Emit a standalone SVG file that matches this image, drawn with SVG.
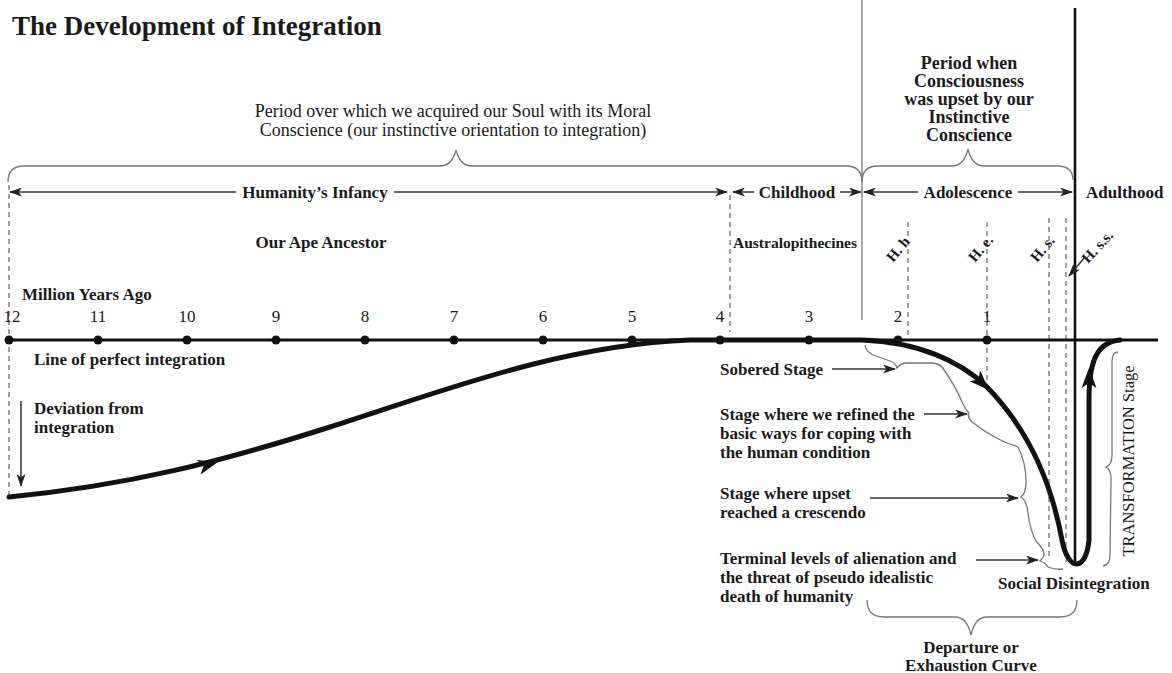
<svg xmlns="http://www.w3.org/2000/svg" width="1172" height="673" viewBox="0 0 1172 673">
<style>
text{font-family:"Liberation Serif","Times New Roman",serif;fill:#1a1a1a}
.b{font-weight:bold;font-size:17px}
.r{font-size:17px}
.c{text-anchor:middle}
.h{font-weight:bold;font-size:15px}
.thin{fill:none;stroke:#333;stroke-width:1.5}
.gray{fill:none;stroke:#777;stroke-width:1.3}
.dash{fill:none;stroke:#555;stroke-width:1.1;stroke-dasharray:5 4}
.main{fill:none;stroke:#111;stroke-width:5;stroke-linecap:round;stroke-linejoin:round}
.axis{fill:none;stroke:#111;stroke-width:3}
.head{fill:#111}
</style>
<defs>
<marker id="ah" viewBox="0 0 13 9" refX="12" refY="4.5" markerWidth="13" markerHeight="9" markerUnits="userSpaceOnUse" orient="auto-start-reverse">
<path d="M0,0 L13,4.5 L0,9 L3.5,4.5 z" fill="#222"/>
</marker>
<path id="bigHead" d="M0,0 L-20,-7.5 L-15,0 L-20,7.5 z"/>
</defs>

<g id="title"><text x="12" y="35" style="font-weight:bold;font-size:27px">The Development of Integration</text></g>

<g id="frame-lines">
<line x1="862" y1="0" x2="862" y2="320" stroke="#888" stroke-width="1.5"/>
<line x1="1075" y1="8" x2="1075" y2="566" stroke="#111" stroke-width="2.6"/>
<line class="dash" x1="9" y1="185" x2="9" y2="497"/>
<line class="dash" x1="730" y1="195" x2="730" y2="332"/>
<line class="dash" x1="908" y1="222" x2="908" y2="340"/>
<line class="dash" x1="987" y1="222" x2="987" y2="386"/>
<line class="dash" x1="1049" y1="218" x2="1049" y2="560"/>
<line class="dash" x1="1066" y1="218" x2="1066" y2="562"/>
</g>

<g id="soul-period">
<path class="gray" d="M8,182 Q8,166 24,166 L440,166 Q452,166 456,150 Q460,166 472,166 L846,166 Q862,166 862,182"/>
<text class="c" x="453" y="117" style="font-size:18px">Period over which we acquired our Soul with its Moral</text>
<text class="c" x="453" y="136" style="font-size:18px">Conscience (our instinctive orientation to integration)</text>
</g>

<g id="upset-period">
<path class="gray" d="M862,182 Q862,166 878,166 L952,166 Q964,166 968,149 Q972,166 984,166 L1057,166 Q1073,166 1073,180"/>
<g style="font-weight:bold;font-size:18px">
<text class="c" x="969" y="69">Period when</text>
<text class="c" x="969" y="87">Consciousness</text>
<text class="c" x="969" y="105">was upset by our</text>
<text class="c" x="969" y="123">Instinctive</text>
<text class="c" x="969" y="141">Conscience</text>
</g>
</g>

<g id="infancy"><text class="b c" x="315" y="198">Humanity’s Infancy</text></g>
<g id="childhood"><text class="b c" x="797" y="198">Childhood</text></g>
<g id="adolescence"><text class="b c" x="968" y="198">Adolescence</text></g>
<g id="adulthood"><text class="b" x="1086" y="198">Adulthood</text></g>

<g id="ape"><text class="b c" x="321" y="248">Our Ape Ancestor</text></g>
<g id="australopithecines"><text x="733" y="248" style="font-weight:bold;font-size:15.5px">Australopithecines</text></g>

<g id="species">
<text class="h" transform="translate(893,263) rotate(-50)">H. h</text>
<text class="h" transform="translate(975,263) rotate(-50)">H. e.</text>
<text class="h" transform="translate(1037,263) rotate(-50)">H. s.</text>
<text class="h" transform="translate(1088,264) rotate(-47)">H. s.s.</text>
</g>

<g id="axis">
<text class="b" x="22" y="300">Million Years Ago</text>
<line class="axis" x1="8" y1="340" x2="1158" y2="340"/>
<g>
<text class="r c" x="12" y="322">12</text>
<text class="r c" x="98" y="322">11</text>
<text class="r c" x="187" y="322">10</text>
<text class="r c" x="276" y="322">9</text>
<text class="r c" x="365" y="322">8</text>
<text class="r c" x="454" y="322">7</text>
<text class="r c" x="543" y="322">6</text>
<text class="r c" x="632" y="322">5</text>
<text class="r c" x="720" y="322">4</text>
<text class="r c" x="809" y="322">3</text>
<text class="r c" x="898" y="322">2</text>
<text class="r c" x="987" y="322">1</text>
</g>
<g fill="#111">
<circle cx="9" cy="340" r="4.5"/><circle cx="98" cy="340" r="4.5"/><circle cx="187" cy="340" r="4.5"/>
<circle cx="276" cy="340" r="4.5"/><circle cx="365" cy="340" r="4.5"/><circle cx="454" cy="340" r="4.5"/>
<circle cx="543" cy="340" r="4.5"/><circle cx="632" cy="340" r="4.5"/><circle cx="720" cy="340" r="4.5"/>
<circle cx="809" cy="340" r="4.5"/><circle cx="898" cy="340" r="4.5"/><circle cx="987" cy="340" r="4.5"/>
</g>
<text class="b" x="34" y="365">Line of perfect integration</text>
</g>

<g id="deviation">
<text class="b" x="34" y="414">Deviation from</text>
<text class="b" x="34" y="433">integration</text>
</g>

<g id="sobered"><text class="b" x="720" y="375">Sobered Stage</text></g>
<g id="refined">
<text class="b" x="720" y="420">Stage where we refined the</text>
<text class="b" x="720" y="439">basic ways for coping with</text>
<text class="b" x="720" y="458">the human condition</text>
</g>
<g id="crescendo">
<text class="b" x="720" y="499">Stage where upset</text>
<text class="b" x="720" y="518">reached a crescendo</text>
</g>
<g id="terminal">
<text class="b" x="720" y="564">Terminal levels of alienation and</text>
<text class="b" x="720" y="583">the threat of pseudo idealistic</text>
<text class="b" x="720" y="602">death of humanity</text>
</g>
<g id="social"><text class="b" x="998" y="589">Social Disintegration</text></g>
<g id="departure">
<path class="gray" d="M867,600 Q867,617 884,617 L955,617 Q967,617 971,635 Q975,617 987,617 L1060,617 Q1077,617 1077,600"/>
<text class="b c" x="971" y="653">Departure or</text>
<text class="b c" x="971" y="671">Exhaustion Curve</text>
</g>
<g id="transformation">
<path class="gray" d="M1118,352 Q1112,352 1112,362 L1112,455 Q1112,465 1106,467 Q1111,469 1111,479 L1110,555 Q1110,565 1103,566"/>
<text transform="translate(1134,461) rotate(-90)" class="c" style="font-size:16.5px">TRANSFORMATION Stage</text>
</g>

<g id="connectors">
<line class="thin" x1="236" y1="192" x2="10" y2="192" marker-end="url(#ah)"/>
<line class="thin" x1="394" y1="192" x2="727" y2="192" marker-end="url(#ah)"/>
<line class="thin" x1="754" y1="192" x2="733" y2="192" marker-end="url(#ah)"/>
<line class="thin" x1="840" y1="192" x2="861" y2="192" marker-end="url(#ah)"/>
<line class="thin" x1="918" y1="192" x2="864" y2="192" marker-end="url(#ah)"/>
<line class="thin" x1="1018" y1="192" x2="1072" y2="192" marker-end="url(#ah)"/>
<line class="thin" x1="1085" y1="257" x2="1069" y2="276" marker-end="url(#ah)"/>
<line class="thin" x1="21" y1="401" x2="21" y2="486" marker-end="url(#ah)"/>
<line class="thin" x1="832" y1="369" x2="895" y2="369" marker-end="url(#ah)"/>
<line class="thin" x1="924" y1="414" x2="967" y2="414" marker-end="url(#ah)"/>
<line class="thin" x1="870" y1="498" x2="1018" y2="498" marker-end="url(#ah)"/>
<line class="thin" x1="976" y1="560" x2="1038" y2="560" marker-end="url(#ah)"/>
<path class="gray" d="M865,345 Q866,353 876,356 L890,361 Q896,363 897,368 Q900,363 908,363 L930,363 Q938,363 942,367"/>
<path class="gray" d="M942,367 Q955,385 963,404 Q966,410 969,413 Q967,417 972,422 Q995,440 1018,447"/>
<path class="gray" d="M1018,447 Q1026,462 1026,482 Q1026,493 1021,497 Q1027,501 1028,513 Q1030,530 1036,541"/>
<path class="gray" d="M1036,541 Q1045,550 1044,556 Q1042,559 1040,561 Q1046,563 1048,567 Q1055,570 1063,569"/>
<path class="main" d="M9,497 C130,485 220,462 330,427 C440,392 560,345 690,340 L862,340 C920,342 960,362 985,385 C1025,425 1050,475 1062,540 C1068,572 1086,572 1089,540 L1089,400 C1089,365 1095,342 1120,340"/>
<use href="#bigHead" class="head" transform="translate(218,462) rotate(-15)"/>
<use href="#bigHead" class="head" transform="translate(989,390) rotate(45)"/>
<use href="#bigHead" class="head" transform="translate(1089,368) rotate(-90)"/>
</g>
</svg>
